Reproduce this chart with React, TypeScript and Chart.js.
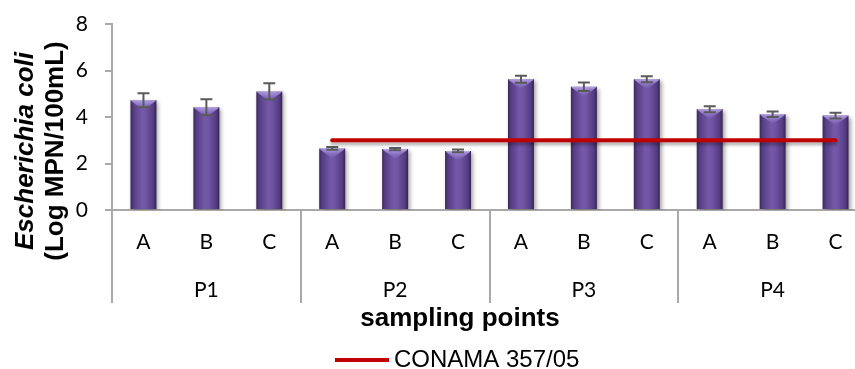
import { useEffect, useRef } from 'react';
import { Chart, registerables } from 'chart.js';

Chart.register(...registerables);

// Sample sub-points within each sampling point
const samples = ['A', 'B', 'C', 'A', 'B', 'C', 'A', 'B', 'C', 'A', 'B', 'C'];
const groups = ['P1', 'P2', 'P3', 'P4'];
// E. coli, Log MPN/100mL (mean and standard deviation)
const ecoli = [4.72, 4.42, 5.1, 2.65, 2.62, 2.54, 5.62, 5.3, 5.62, 4.33, 4.12, 4.06];
const ecoliSd = [0.3, 0.34, 0.35, 0.06, 0.05, 0.06, 0.15, 0.18, 0.13, 0.13, 0.12, 0.12];
// CONAMA 357/05 limit, drawn from P2 onwards
const conama = [null, null, null, 3, 3, 3, 3, 3, 3, 3, 3, 3];
const yMin = 0;
const yMax = 8;
const yStep = 2;

const AXIS_GREY = '#a9a9a9';
const LIMIT_RED = '#c00000';
const BAR_FLAT = '#6a4f9c';
const TICK_FONT = 'Lato, "Open Sans", sans-serif';
const TITLE_FONT = '"Liberation Sans", Arial, sans-serif';

function barGradient(ctx: any) {
  const chart = ctx.chart;
  const xs = chart.scales?.x;
  if (!xs || typeof ctx.dataIndex !== 'number') return BAR_FLAT;
  const cx = xs.getPixelForValue(ctx.dataIndex);
  const half = ((xs.width / samples.length) * 0.413) / 2;
  if (!Number.isFinite(cx) || !Number.isFinite(half) || half <= 0) return BAR_FLAT;
  const g = chart.ctx.createLinearGradient(cx - half, 0, cx + half, 0);
  g.addColorStop(0, '#3a2858');
  g.addColorStop(0.12, '#563e86');
  g.addColorStop(0.45, '#7459a8');
  g.addColorStop(0.6, '#6f54a2');
  g.addColorStop(0.88, '#543c82');
  g.addColorStop(1, '#35244f');
  return g;
}

const decorations = {
  id: 'decorations',
  beforeDatasetDraw(chart: any, args: any) {
    const ctx = chart.ctx;
    ctx.save();
    if (args.index === 0) {
      ctx.shadowColor = 'rgba(0,0,0,0.35)';
      ctx.shadowBlur = 4;
      ctx.shadowOffsetX = 2;
      ctx.shadowOffsetY = 2;
    } else {
      ctx.shadowColor = 'rgba(0,0,0,0.3)';
      ctx.shadowBlur = 3;
      ctx.shadowOffsetX = 0;
      ctx.shadowOffsetY = 3;
    }
  },
  afterDatasetDraw(chart: any, args: any) {
    const ctx = chart.ctx;
    ctx.restore();
    if (args.index !== 0) return;
    const ys = chart.scales.y;
    const meta = chart.getDatasetMeta(0);
    meta.data.forEach((bar: any, i: number) => {
      const { x, y, width } = bar.getProps(['x', 'y', 'width'], true);
      if (![x, y, width].every(Number.isFinite)) return;
      const l = x - width / 2;
      const r = x + width / 2;
      // bevelled top of each bar
      ctx.save();
      const hg = ctx.createLinearGradient(0, y, 0, y + 10);
      hg.addColorStop(0, 'rgba(190,170,240,0.95)');
      hg.addColorStop(1, 'rgba(150,125,215,0)');
      ctx.fillStyle = hg;
      ctx.beginPath();
      ctx.moveTo(l + 1, y + 1);
      ctx.lineTo(r - 1, y + 1);
      ctx.lineTo(x, y + 10);
      ctx.closePath();
      ctx.fill();
      ctx.strokeStyle = 'rgba(200,185,240,0.9)';
      ctx.lineWidth = 1;
      ctx.beginPath();
      ctx.moveTo(l + 1, y + 0.5);
      ctx.lineTo(r - 1, y + 0.5);
      ctx.stroke();
      ctx.restore();

      // error bars
      const v = ecoli[i];
      const sd = ecoliSd[i];
      const top = ys.getPixelForValue(v + sd);
      const bot = ys.getPixelForValue(v - sd);
      ctx.save();
      ctx.strokeStyle = '#5a5a5a';
      ctx.lineWidth = 2;
      ctx.beginPath();
      ctx.moveTo(x, top);
      ctx.lineTo(x, bot);
      ctx.moveTo(x - 6, top);
      ctx.lineTo(x + 6, top);
      ctx.moveTo(x - 6, bot);
      ctx.lineTo(x + 6, bot);
      ctx.stroke();
      ctx.restore();
    });
  },
  afterDraw(chart: any) {
    const ctx = chart.ctx;
    const xs = chart.scales.x;
    const area = chart.chartArea;
    const groupW = (area.right - area.left) / groups.length;
    ctx.save();
    // group separators below the axis
    ctx.strokeStyle = AXIS_GREY;
    ctx.lineWidth = 2;
    for (let k = 0; k <= groups.length; k++) {
      const gx = Math.round(area.left + k * groupW);
      ctx.beginPath();
      ctx.moveTo(gx, area.bottom);
      ctx.lineTo(gx, area.bottom + 93);
      ctx.stroke();
    }
    // group labels
    ctx.fillStyle = '#000';
    ctx.font = `21px ${TICK_FONT}`;
    ctx.textAlign = 'center';
    ctx.textBaseline = 'middle';
    groups.forEach((g, k) => {
      const c = (xs.getPixelForValue(k * 3) + xs.getPixelForValue(k * 3 + 2)) / 2;
      ctx.fillText(g, c, area.bottom + 80);
    });
    // x-axis title
    ctx.font = `bold 26px ${TITLE_FONT}`;
    ctx.fillText('sampling points', 460, 319);

    // y-axis title (two lines, read bottom to top)
    ctx.translate(0, 151);
    ctx.rotate(-Math.PI / 2);
    ctx.textBaseline = 'alphabetic';
    ctx.font = `italic bold 26px ${TITLE_FONT}`;
    ctx.fillText('Escherichia coli', 0, 33);
    ctx.font = `bold 26px ${TITLE_FONT}`;
    ctx.fillText('(Log MPN/100mL)', 0, 63);
    ctx.setTransform(1, 0, 0, 1, 0, 0);

    // legend
    ctx.strokeStyle = LIMIT_RED;
    ctx.lineWidth = 4;
    ctx.beginPath();
    ctx.moveTo(335, 360);
    ctx.lineTo(389, 360);
    ctx.stroke();
    ctx.font = `24px ${TITLE_FONT}`;
    ctx.textAlign = 'left';
    ctx.textBaseline = 'middle';
    ctx.fillText('CONAMA 357/05', 394, 360);
    ctx.restore();
  },
};

export default function App() {
  const ref = useRef<HTMLCanvasElement>(null);

  useEffect(() => {
    if (!ref.current) return;
    const chart = new Chart(ref.current, {
      type: 'bar',
      data: {
        labels: samples,
        datasets: [
          {
            type: 'bar',
            label: 'E. coli',
            data: ecoli,
            backgroundColor: barGradient,
            borderWidth: 0,
            barPercentage: 0.413,
            categoryPercentage: 1,
            order: 1,
          },
          {
            type: 'line',
            label: 'CONAMA 357/05',
            data: conama,
            borderColor: LIMIT_RED,
            borderWidth: 4,
            pointRadius: 0,
            borderCapStyle: 'round',
            fill: false,
            order: 0,
          } as any,
        ],
      },
      options: {
        responsive: false,
        animation: false,
        devicePixelRatio: 1,
        layout: { padding: { top: 24, right: 13, left: 0, bottom: 0 } },
        plugins: {
          legend: { display: false },
          tooltip: { enabled: false },
        },
        scales: {
          x: {
            ticks: { color: '#000', padding: 20, font: { family: TICK_FONT, size: 21 } },
            grid: { display: false, drawTicks: false },
            border: { display: true, color: AXIS_GREY, width: 2 },
            afterFit: (s: any) => {
              s.height = 159;
            },
          },
          y: {
            min: yMin,
            max: yMax,
            ticks: { stepSize: yStep, color: '#000', padding: 17, font: { family: TICK_FONT, size: 21 } },
            grid: { drawOnChartArea: false, tickLength: 7, color: AXIS_GREY, lineWidth: 2 },
            border: { display: true, color: AXIS_GREY, width: 2 },
            afterFit: (s: any) => {
              s.width = 112;
              // the top tick label may overhang the plot; keep the plot top at the layout padding
              s.paddingTop = 0;
            },
          },
        },
      },
      plugins: [decorations],
    });
    return () => chart.destroy();
  }, []);

  return (
    <div style={{ position: 'fixed', left: 0, top: 0, width: 855, height: 369, overflow: 'hidden', background: '#fff' }}>
      <canvas ref={ref} width={880} height={369} style={{ display: 'block' }} />
    </div>
  );
}
